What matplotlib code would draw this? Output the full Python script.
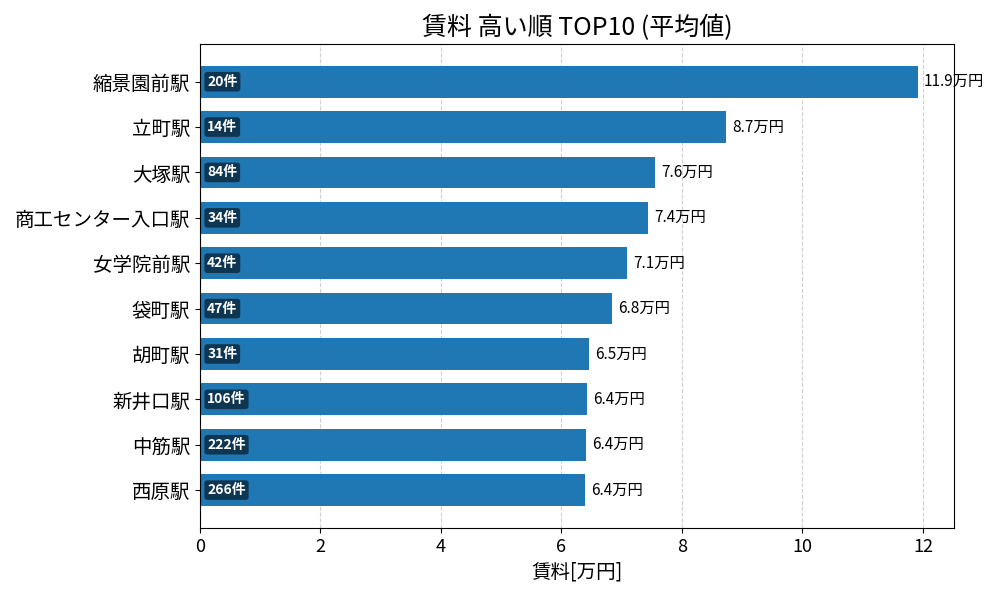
import matplotlib
matplotlib.use("Agg")
import matplotlib.pyplot as plt

plt.rcParams['font.family'] = ['Noto Sans CJK JP', 'DejaVu Sans']

stations = ["縮景園前駅", "立町駅", "大塚駅", "商工センター入口駅", "女学院前駅",
            "袋町駅", "胡町駅", "新井口駅", "中筋駅", "西原駅"]
rents = [11.92, 8.73, 7.56, 7.44, 7.09, 6.84, 6.46, 6.42, 6.41, 6.39]
counts = [20, 14, 84, 34, 42, 47, 31, 106, 222, 266]

fig, ax = plt.subplots(figsize=(10, 6), dpi=100)
fig.subplots_adjust(left=0.2, right=0.954, top=0.927, bottom=0.12)

ypos = list(range(len(stations)))
ax.barh(ypos, rents, height=0.7, color="#1f77b4", zorder=2)
ax.set_yticks(ypos)
ax.set_yticklabels(stations, fontsize=14)
ax.invert_yaxis()
ax.set_xlim(0, max(rents) * 1.05)
ax.grid(axis="x", linestyle="--", alpha=0.6, zorder=0)
ax.set_axisbelow(True)
ax.tick_params(axis="x", labelsize=13)
ax.set_xlabel("賃料[万円]", fontsize=14)
ax.set_title("賃料 高い順 TOP10 (平均値)", fontsize=18)

for y, v, c in zip(ypos, rents, counts):
    ax.text(v + 0.1, y, f"{v:.1f}万円", va="center", ha="left", fontsize=11)
    ax.text(0.12, y, f"{c}件", va="center", ha="left", fontsize=10,
            color="white", fontweight="bold",
            bbox=dict(boxstyle="round,pad=0.2", facecolor="black", alpha=0.55, edgecolor="none"))

fig.savefig("out.png", dpi=100)
